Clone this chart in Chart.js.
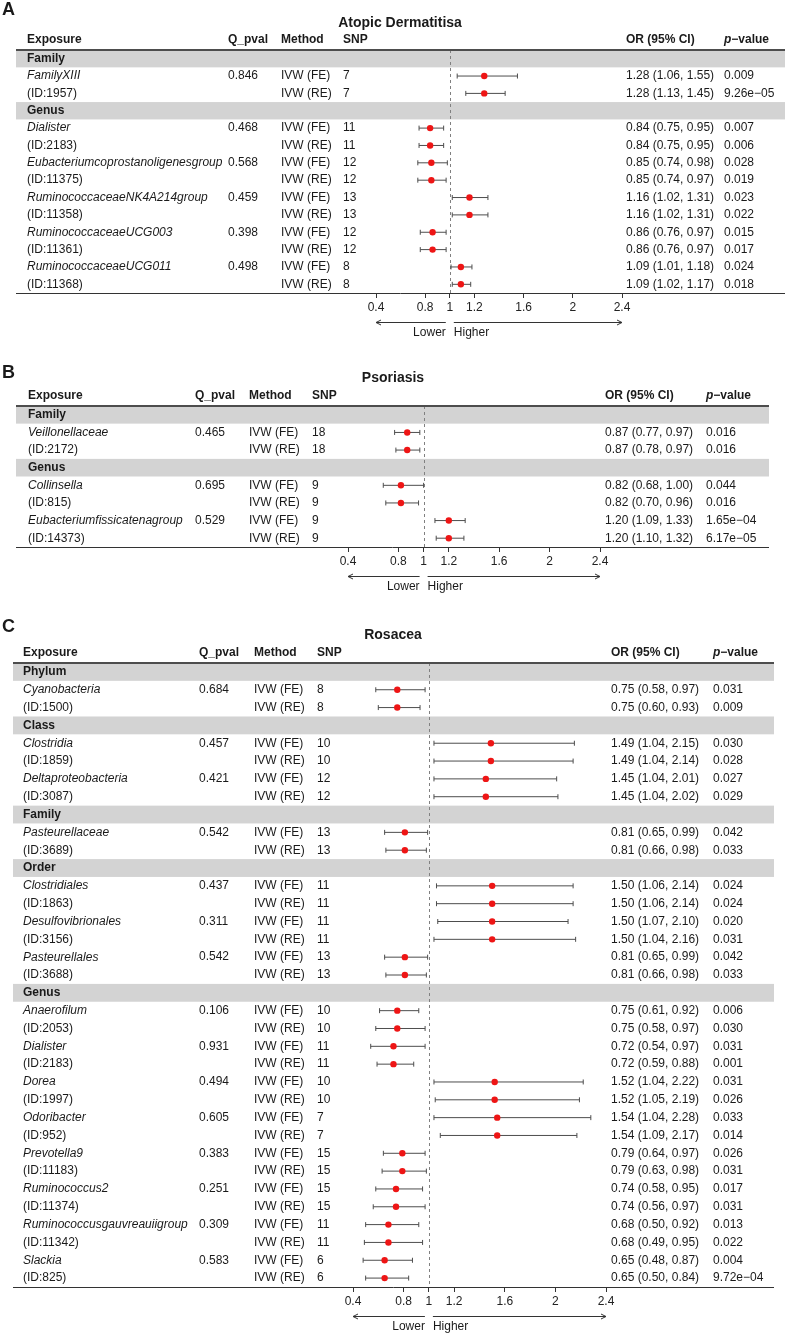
<!DOCTYPE html>
<html>
<head>
<meta charset="utf-8">
<script src="https://cdn.jsdelivr.net/npm/chart.js@4.4.1/dist/chart.umd.min.js"></script>
<style>
  body { margin: 0; background: #fff; }
  canvas { position: absolute; left: 0; }
</style>
</head>
<body>
<canvas id="chartA"></canvas>
<canvas id="chartB"></canvas>
<canvas id="chartC"></canvas>
<script>
const FONT = '"Liberation Sans", Arial, Helvetica, sans-serif';
const INK = "#1a1a1a";
const WIDTH = 787;
const AXIS_H = 40;
const FE = "IVW (FE)";
const RE = "IVW (RE)";

const tickValues = [0.4, 0.8, 1, 1.2, 1.6, 2, 2.4];

// A - Atopic dermatitis
const adExposure = ["Family", "FamilyXIII", "(ID:1957)", "Genus", "Dialister", "(ID:2183)",
  "Eubacteriumcoprostanoligenesgroup", "(ID:11375)", "RuminococcaceaeNK4A214group", "(ID:11358)",
  "RuminococcaceaeUCG003", "(ID:11361)", "RuminococcaceaeUCG011", "(ID:11368)"];
const adQpval = [null, "0.846", "", null, "0.468", "", "0.568", "", "0.459", "", "0.398", "", "0.498", ""];
const adMethod = [null, FE, RE, null, FE, RE, FE, RE, FE, RE, FE, RE, FE, RE];
const adSnp = [null, 7, 7, null, 11, 11, 12, 12, 13, 13, 12, 12, 8, 8];
const adOR = [null, 1.28, 1.28, null, 0.84, 0.84, 0.85, 0.85, 1.16, 1.16, 0.86, 0.86, 1.09, 1.09];
const adLow = [null, 1.06, 1.13, null, 0.75, 0.75, 0.74, 0.74, 1.02, 1.02, 0.76, 0.76, 1.01, 1.02];
const adHigh = [null, 1.55, 1.45, null, 0.95, 0.95, 0.98, 0.97, 1.31, 1.31, 0.97, 0.97, 1.18, 1.17];
const adPval = [null, "0.009", "9.26e\u221205", null, "0.007", "0.006", "0.028", "0.019", "0.023", "0.022",
  "0.015", "0.017", "0.024", "0.018"];

// B - Psoriasis
const psExposure = ["Family", "Veillonellaceae", "(ID:2172)", "Genus", "Collinsella", "(ID:815)",
  "Eubacteriumfissicatenagroup", "(ID:14373)"];
const psQpval = [null, "0.465", "", null, "0.695", "", "0.529", ""];
const psMethod = [null, FE, RE, null, FE, RE, FE, RE];
const psSnp = [null, 18, 18, null, 9, 9, 9, 9];
const psOR = [null, 0.87, 0.87, null, 0.82, 0.82, 1.20, 1.20];
const psLow = [null, 0.77, 0.78, null, 0.68, 0.70, 1.09, 1.10];
const psHigh = [null, 0.97, 0.97, null, 1.00, 0.96, 1.33, 1.32];
const psPval = [null, "0.016", "0.016", null, "0.044", "0.016", "1.65e\u221204", "6.17e\u221205"];

// C - Rosacea
const roExposure = ["Phylum", "Cyanobacteria", "(ID:1500)", "Class", "Clostridia", "(ID:1859)",
  "Deltaproteobacteria", "(ID:3087)", "Family", "Pasteurellaceae", "(ID:3689)", "Order", "Clostridiales",
  "(ID:1863)", "Desulfovibrionales", "(ID:3156)", "Pasteurellales", "(ID:3688)", "Genus", "Anaerofilum",
  "(ID:2053)", "Dialister", "(ID:2183)", "Dorea", "(ID:1997)", "Odoribacter", "(ID:952)", "Prevotella9",
  "(ID:11183)", "Ruminococcus2", "(ID:11374)", "Ruminococcusgauvreauiigroup", "(ID:11342)", "Slackia", "(ID:825)"];
const roQpval = [null, "0.684", "", null, "0.457", "", "0.421", "", null, "0.542", "", null, "0.437", "",
  "0.311", "", "0.542", "", null, "0.106", "", "0.931", "", "0.494", "", "0.605", "", "0.383", "",
  "0.251", "", "0.309", "", "0.583", ""];
const roMethod = [null, FE, RE, null, FE, RE, FE, RE, null, FE, RE, null, FE, RE, FE, RE, FE, RE, null,
  FE, RE, FE, RE, FE, RE, FE, RE, FE, RE, FE, RE, FE, RE, FE, RE];
const roSnp = [null, 8, 8, null, 10, 10, 12, 12, null, 13, 13, null, 11, 11, 11, 11, 13, 13, null,
  10, 10, 11, 11, 10, 10, 7, 7, 15, 15, 15, 15, 11, 11, 6, 6];
const roOR = [null, 0.75, 0.75, null, 1.49, 1.49, 1.45, 1.45, null, 0.81, 0.81, null, 1.50, 1.50, 1.50, 1.50,
  0.81, 0.81, null, 0.75, 0.75, 0.72, 0.72, 1.52, 1.52, 1.54, 1.54, 0.79, 0.79, 0.74, 0.74, 0.68, 0.68, 0.65, 0.65];
const roLow = [null, 0.58, 0.60, null, 1.04, 1.04, 1.04, 1.04, null, 0.65, 0.66, null, 1.06, 1.06, 1.07, 1.04,
  0.65, 0.66, null, 0.61, 0.58, 0.54, 0.59, 1.04, 1.05, 1.04, 1.09, 0.64, 0.63, 0.58, 0.56, 0.50, 0.49, 0.48, 0.50];
const roHigh = [null, 0.97, 0.93, null, 2.15, 2.14, 2.01, 2.02, null, 0.99, 0.98, null, 2.14, 2.14, 2.10, 2.16,
  0.99, 0.98, null, 0.92, 0.97, 0.97, 0.88, 2.22, 2.19, 2.28, 2.17, 0.97, 0.98, 0.95, 0.97, 0.92, 0.95, 0.87, 0.84];
const roPval = [null, "0.031", "0.009", null, "0.030", "0.028", "0.027", "0.029", null, "0.042", "0.033", null,
  "0.024", "0.024", "0.020", "0.031", "0.042", "0.033", null, "0.006", "0.030", "0.031", "0.001", "0.031",
  "0.026", "0.033", "0.014", "0.026", "0.031", "0.017", "0.031", "0.013", "0.022", "0.004", "9.72e\u221204"];

// page placement of each panel (global pixel coords)
const boxA = { canvasTop: 0, height: 345, letter: "A", letterY: 10, title: "Atopic Dermatitisa", titleX: 400, titleY: 23,
  top: 50, bottom: 293, x04: 376, x24: 622, lineL: 16, lineR: 785, cols: [27, 228, 281, 343, 626, 724] };
const boxB = { canvasTop: 345, height: 255, letter: "B", letterY: 373, title: "Psoriasis", titleX: 393, titleY: 378,
  top: 406, bottom: 547, x04: 348, x24: 600, lineL: 16, lineR: 769, cols: [28, 195, 249, 312, 605, 706] };
const boxC = { canvasTop: 600, height: 737, letter: "C", letterY: 627, title: "Rosacea", titleX: 393, titleY: 635,
  top: 663, bottom: 1287, x04: 353, x24: 606, lineL: 13, lineR: 774, cols: [23, 199, 254, 317, 611, 713] };

function orText(or, lo, hi) {
  return `${or.toFixed(2)} (${lo.toFixed(2)}, ${hi.toFixed(2)})`;
}

function arrow(ctx, x1, x2, y) {
  const d = x2 > x1 ? 1 : -1;
  ctx.beginPath();
  ctx.moveTo(x1, y);
  ctx.lineTo(x2, y);
  ctx.moveTo(x2 - d * 5, y - 2.5);
  ctx.lineTo(x2, y);
  ctx.lineTo(x2 - d * 5, y + 2.5);
  ctx.stroke();
}

function drawPanel(id, box, t) {
  const canvas = document.getElementById(id);
  canvas.width = WIDTH;
  canvas.height = box.height;
  canvas.style.top = box.canvasTop + "px";
  const n = t.exposure.length;
  const o = box.canvasTop;

  const whiskers = [];
  const points = [];
  t.or.forEach((v, i) => {
    if (v === null) return;
    whiskers.push({ x: t.low[i], y: i }, { x: t.high[i], y: i }, { x: null, y: null });
    points.push({ x: v, y: i });
  });

  const tablePlugin = {
    id: "table",
    beforeDatasetsDraw(chart) {
      const ctx = chart.ctx;
      const ys = chart.scales.y;
      const xs = chart.scales.x;
      const { top, bottom } = chart.chartArea;
      const rowH = (bottom - top) / n;
      ctx.save();
      ctx.fillStyle = "#d3d3d3";
      for (let i = 0; i < n; i++) {
        if (t.or[i] !== null) continue;
        const y = ys.getPixelForValue(i);
        ctx.fillRect(box.lineL, y - rowH / 2, box.lineR - box.lineL, rowH);
      }
      const x1 = Math.round(xs.getPixelForValue(1)) + 0.5;
      ctx.strokeStyle = "#808080";
      ctx.lineWidth = 1;
      ctx.setLineDash([3, 3]);
      ctx.beginPath();
      ctx.moveTo(x1, top);
      ctx.lineTo(x1, bottom);
      ctx.stroke();
      ctx.restore();
    },
    afterDraw(chart) {
      const ctx = chart.ctx;
      const ys = chart.scales.y;
      const xs = chart.scales.x;
      const { top, bottom } = chart.chartArea;
      const c = box.cols;
      ctx.save();
      ctx.fillStyle = INK;
      ctx.textBaseline = "middle";
      ctx.textAlign = "left";
      ctx.font = `bold 18px ${FONT}`;
      ctx.fillText(box.letter, 2, box.letterY - o);
      ctx.font = `bold 14px ${FONT}`;
      ctx.textAlign = "center";
      ctx.fillText(box.title, box.titleX, box.titleY - o);
      ctx.textAlign = "left";

      const hy = top - 10;
      ctx.font = `bold 12px ${FONT}`;
      ["Exposure", "Q_pval", "Method", "SNP", "OR (95% CI)"].forEach((h, k) => ctx.fillText(h, c[k], hy));
      ctx.font = `italic bold 12px ${FONT}`;
      ctx.fillText("p", c[5], hy);
      const pw = ctx.measureText("p").width;
      ctx.font = `bold 12px ${FONT}`;
      ctx.fillText("\u2212value", c[5] + pw, hy);

      for (let i = 0; i < n; i++) {
        const y = ys.getPixelForValue(i);
        const name = t.exposure[i];
        if (t.or[i] === null) {
          ctx.font = `bold 12px ${FONT}`;
          ctx.fillText(name, c[0], y);
          continue;
        }
        ctx.font = `${name.startsWith("(") ? "" : "italic "}12px ${FONT}`;
        ctx.fillText(name, c[0], y);
        ctx.font = `12px ${FONT}`;
        ctx.fillText(t.qpval[i], c[1], y);
        ctx.fillText(t.method[i], c[2], y);
        ctx.fillText(String(t.snp[i]), c[3], y);
        ctx.fillText(orText(t.or[i], t.low[i], t.high[i]), c[4], y);
        ctx.fillText(t.pval[i], c[5], y);
      }

      ctx.strokeStyle = "#4d4d4d";
      ctx.lineWidth = 2;
      ctx.beginPath();
      ctx.moveTo(box.lineL, top);
      ctx.lineTo(box.lineR, top);
      ctx.stroke();
      ctx.strokeStyle = "#333";
      ctx.lineWidth = 1;
      ctx.beginPath();
      ctx.moveTo(box.lineL, bottom + 0.5);
      ctx.lineTo(box.lineR, bottom + 0.5);
      ctx.stroke();

      const x1 = xs.getPixelForValue(1);
      ctx.strokeStyle = "#333";
      arrow(ctx, x1 - 4, xs.getPixelForValue(0.4), bottom + 29.5);
      arrow(ctx, x1 + 4, xs.getPixelForValue(2.4), bottom + 29.5);
      ctx.font = `12px ${FONT}`;
      ctx.textAlign = "right";
      ctx.fillText("Lower", x1 - 4, bottom + 40);
      ctx.textAlign = "left";
      ctx.fillText("Higher", x1 + 4, bottom + 40);
      ctx.restore();
    }
  };

  return new Chart(canvas, {
    type: "scatter",
    data: {
      datasets: [
        {
          label: "OR",
          data: points,
          pointRadius: 3.2,
          pointBackgroundColor: "#ee1515",
          pointBorderWidth: 0
        },
        {
          label: "95% CI",
          data: whiskers,
          showLine: true,
          spanGaps: false,
          borderColor: "#4d4d4d",
          borderWidth: 1,
          pointStyle: "line",
          rotation: 90,
          pointRadius: 2.5,
          pointBorderColor: "#4d4d4d",
          pointBorderWidth: 1
        }
      ]
    },
    options: {
      responsive: false,
      animation: false,
      devicePixelRatio: 1,
      events: [],
      layout: {
        padding: {
          left: box.x04,
          right: WIDTH - box.x24,
          top: box.top - o,
          bottom: o + box.height - box.bottom - AXIS_H
        }
      },
      plugins: {
        legend: { display: false },
        tooltip: { enabled: false }
      },
      scales: {
        x: {
          type: "linear",
          min: 0.4,
          max: 2.4,
          afterBuildTicks: (scale) => {
            scale.ticks = tickValues.map((v) => ({ value: v }));
          },
          afterFit: (scale) => {
            scale.height = AXIS_H;
          },
          grid: { drawOnChartArea: false, tickLength: 5, color: "#333" },
          border: { display: false },
          ticks: {
            autoSkip: false,
            maxRotation: 0,
            padding: 2,
            color: "#222",
            font: { family: FONT, size: 12 },
            callback: (v) => String(v)
          }
        },
        y: {
          type: "linear",
          display: false,
          reverse: true,
          min: -0.5,
          max: n - 0.5
        }
      }
    },
    plugins: [tablePlugin]
  });
}

drawPanel("chartA", boxA, { exposure: adExposure, qpval: adQpval, method: adMethod, snp: adSnp,
  or: adOR, low: adLow, high: adHigh, pval: adPval });
drawPanel("chartB", boxB, { exposure: psExposure, qpval: psQpval, method: psMethod, snp: psSnp,
  or: psOR, low: psLow, high: psHigh, pval: psPval });
drawPanel("chartC", boxC, { exposure: roExposure, qpval: roQpval, method: roMethod, snp: roSnp,
  or: roOR, low: roLow, high: roHigh, pval: roPval });
</script>
</body>
</html>
